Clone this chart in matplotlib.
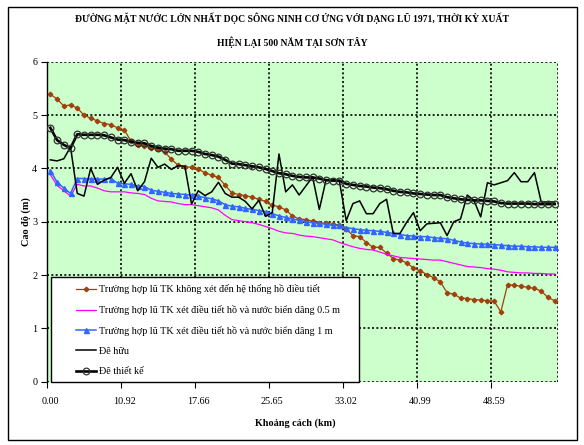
import matplotlib
matplotlib.use('Agg')
import matplotlib.pyplot as plt
from matplotlib.patches import Rectangle
import numpy as np

plt.rcParams['font.family'] = ['Liberation Serif', 'DejaVu Serif']

# ---------------- data ----------------
tick_labels = ['0.00', '10.92', '17.66', '25.65', '33.02', '40.99', '48.59']
tick_index = [0, 11, 22, 33, 44, 55, 66]

brown_no_lake = [5.39, 5.30, 5.17, 5.19, 5.13, 5.00, 4.94, 4.89, 4.84, 4.82,
                 4.76, 4.72, 4.51, 4.44, 4.42, 4.39, 4.36, 4.31, 4.17, 4.06,
                 4.03, 4.02, 3.98, 3.92, 3.87, 3.83, 3.68, 3.54, 3.51, 3.49,
                 3.46, 3.42, 3.38, 3.31, 3.28, 3.22, 3.11, 3.05, 3.04, 3.01,
                 2.98, 2.97, 2.95, 2.94, 2.86, 2.74, 2.72, 2.61, 2.52, 2.52,
                 2.41, 2.31, 2.28, 2.23, 2.13, 2.08, 2.01, 1.95, 1.87, 1.67,
                 1.64, 1.57, 1.56, 1.54, 1.53, 1.52, 1.51, 1.31, 1.82, 1.81,
                 1.79, 1.77, 1.75, 1.70, 1.58, 1.52]

magenta_sea05 = [3.88, 3.68, 3.58, 3.48, 3.70, 3.67, 3.67, 3.63, 3.58, 3.56,
                 3.56, 3.56, 3.54, 3.53, 3.51, 3.44, 3.39, 3.38, 3.37, 3.34,
                 3.32, 3.32, 3.30, 3.28, 3.26, 3.22, 3.12, 3.04, 3.02, 3.00,
                 2.98, 2.95, 2.91, 2.87, 2.82, 2.79, 2.78, 2.75, 2.73, 2.72,
                 2.70, 2.68, 2.66, 2.61, 2.57, 2.53, 2.50, 2.48, 2.47, 2.43,
                 2.39, 2.36, 2.33, 2.32, 2.31, 2.30, 2.29, 2.28, 2.28, 2.25,
                 2.22, 2.19, 2.16, 2.15, 2.14, 2.12, 2.11, 2.09, 2.06, 2.05,
                 2.04, 2.04, 2.03, 2.03, 2.02, 2.02]

blue_sea1 = [3.96, 3.74, 3.63, 3.53, 3.81, 3.81, 3.80, 3.80, 3.80, 3.81,
             3.72, 3.71, 3.70, 3.67, 3.66, 3.59, 3.57, 3.55, 3.53, 3.52,
             3.51, 3.50, 3.48, 3.45, 3.43, 3.39, 3.32, 3.29, 3.28, 3.25,
             3.23, 3.21, 3.19, 3.15, 3.11, 3.08, 3.05, 3.03, 3.00, 2.98,
             2.97, 2.95, 2.93, 2.93, 2.89, 2.87, 2.85, 2.84, 2.83, 2.82,
             2.80, 2.78, 2.76, 2.74, 2.73, 2.72, 2.72, 2.70, 2.69, 2.68,
             2.65, 2.62, 2.60, 2.59, 2.58, 2.58, 2.57, 2.56, 2.55, 2.54,
             2.54, 2.53, 2.53, 2.52, 2.52, 2.52]

de_huu = [4.16, 4.14, 4.18, 4.40, 3.53, 3.48, 4.00, 3.70, 3.78, 3.83,
          4.02, 3.72, 3.90, 3.58, 3.75, 4.19, 4.02, 4.08, 3.98, 4.05,
          4.04, 3.33, 3.58, 3.49, 3.56, 3.74, 3.53, 3.46, 3.46, 3.38,
          3.24, 3.40, 3.10, 3.17, 4.27, 3.56, 3.69, 3.50, 3.67, 3.84,
          3.23, 3.78, 3.80, 3.75, 3.02, 3.34, 3.39, 3.15, 3.15, 3.34,
          3.42, 2.78, 2.78, 2.99, 3.17, 2.83, 2.96, 2.97, 2.98, 2.74,
          3.00, 3.05, 3.50, 3.40, 3.09, 3.73, 3.69, 3.73, 3.77, 3.92,
          3.75, 3.75, 3.92, 3.37, 3.37, 3.37]

de_thiet_ke = [4.76, 4.53, 4.44, 4.38, 4.64, 4.63, 4.63, 4.63, 4.62, 4.58,
               4.54, 4.53, 4.50, 4.48, 4.47, 4.42, 4.39, 4.37, 4.36, 4.33,
               4.33, 4.33, 4.31, 4.27, 4.25, 4.22, 4.16, 4.09, 4.08, 4.06,
               4.04, 4.02, 3.99, 3.95, 3.91, 3.89, 3.86, 3.84, 3.83, 3.83,
               3.81, 3.78, 3.77, 3.77, 3.71, 3.69, 3.67, 3.66, 3.64, 3.63,
               3.61, 3.58, 3.56, 3.55, 3.53, 3.52, 3.51, 3.50, 3.50, 3.46,
               3.44, 3.42, 3.41, 3.40, 3.40, 3.39, 3.38, 3.35, 3.34, 3.34,
               3.34, 3.34, 3.33, 3.33, 3.33, 3.33]

labels = ['Trường hợp lũ TK không xét đến hệ thống hồ điều tiết',
          'Trường hợp lũ TK xét điều tiết hồ và nước biển dâng 0.5 m',
          'Trường hợp lũ TK xét điều tiết hồ và nước biển dâng 1 m',
          'Đê hữu',
          'Đê thiết kế']

title1 = 'ĐƯỜNG MẶT NƯỚC LỚN NHẤT DỌC SÔNG NINH CƠ ỨNG VỚI DẠNG LŨ 1971, THỜI KỲ XUẤT'
title2 = 'HIỆN LẠI 500 NĂM TẠI SƠN TÂY'
xlabel = 'Khoảng cách (km)'
ylabel = 'Cao độ (m)'

# ---------------- figure ----------------
n = len(de_thiet_ke)
x = np.arange(n)

fig = plt.figure(figsize=(5.84, 4.45), dpi=100)
ax = fig.add_axes([47 / 584, 1 - 381.7 / 445, 511 / 584, 320 / 445])
ax.set_facecolor('#CCFFCC')

ax.plot(x, brown_no_lake, color='#A0400C', lw=0.9, marker='D', ms=2.3,
        mfc='#A0400C', mec='#A0400C', label=labels[0], zorder=3)
ax.plot(x, magenta_sea05, color='#FF00FF', lw=0.9, label=labels[1], zorder=3)
ax.plot(x, blue_sea1, color='#3366FF', lw=1.1, marker='^', ms=3.6,
        mfc='#3366FF', mec='#3366FF', label=labels[2], zorder=3)
ax.plot(x, de_huu, color='black', lw=1.1, label=labels[3], zorder=3)
ax.plot(x, de_thiet_ke, color='black', lw=1.9, marker='o', ms=4.8,
        mfc='none', mec='#333333', mew=0.9, label=labels[4], zorder=3)

ax.set_xlim(-0.5, n - 0.5)
ax.set_ylim(0, 6)

grid_pos = [t - 0.5 for t in tick_index]
ax.set_xticks(grid_pos)
ax.set_xticklabels([])
ax.set_xticks(tick_index, minor=True)
ax.set_xticklabels(tick_labels, minor=True, fontsize=7.3)
ax.tick_params(axis='x', which='major', direction='out', length=4, width=0.8)
ax.tick_params(axis='x', which='minor', length=0, pad=11)
ax.set_yticks(range(0, 7))
ax.set_yticklabels([str(v) for v in range(0, 7)], fontsize=7.3)
ax.tick_params(axis='y', direction='out', length=4, width=0.8, pad=3)

gkw = dict(color='black', lw=1.2, linestyle=(0, (1.2, 1.4)), zorder=1)
for g in grid_pos[1:] + [n - 0.5]:
    ax.axvline(g, **gkw)
for v in range(0, 7):
    ax.axhline(v, **gkw)

for s in ['top', 'right', 'bottom']:
    ax.spines[s].set_visible(False)
ax.spines['left'].set_linewidth(1.0)

# legend box
ax.add_patch(Rectangle((4 / 511, 0), 308 / 511, 0.327, transform=ax.transAxes,
                       facecolor='white', edgecolor='black', lw=1.0, zorder=4,
                       clip_on=False))
leg = ax.legend(loc='upper left', bbox_to_anchor=(29 / 511, 0.305),
                frameon=False, fontsize=7.3, borderpad=0, borderaxespad=0,
                handlelength=2.0, handletextpad=0.25, labelspacing=1.08)
leg.set_zorder(5)

fig.text(292 / 584, 1 - 18 / 445, title1, ha='center', va='center',
         fontsize=6.9, fontweight='bold')
fig.text(292 / 584, 1 - 42 / 445, title2, ha='center', va='center',
         fontsize=6.9, fontweight='bold')
fig.text(295 / 584, 1 - 423 / 445, xlabel, ha='center', va='center',
         fontsize=7.3, fontweight='bold')
fig.text(26 / 584, 1 - 222 / 445, ylabel, ha='center', va='center',
         fontsize=7.3, fontweight='bold', rotation=90)

fig.patches.append(Rectangle((8 / 584, 5 / 445), 569 / 584, 433 / 445,
                             transform=fig.transFigure, fill=False,
                             edgecolor='black', lw=1.0))

fig.savefig('out.png', dpi=100)
